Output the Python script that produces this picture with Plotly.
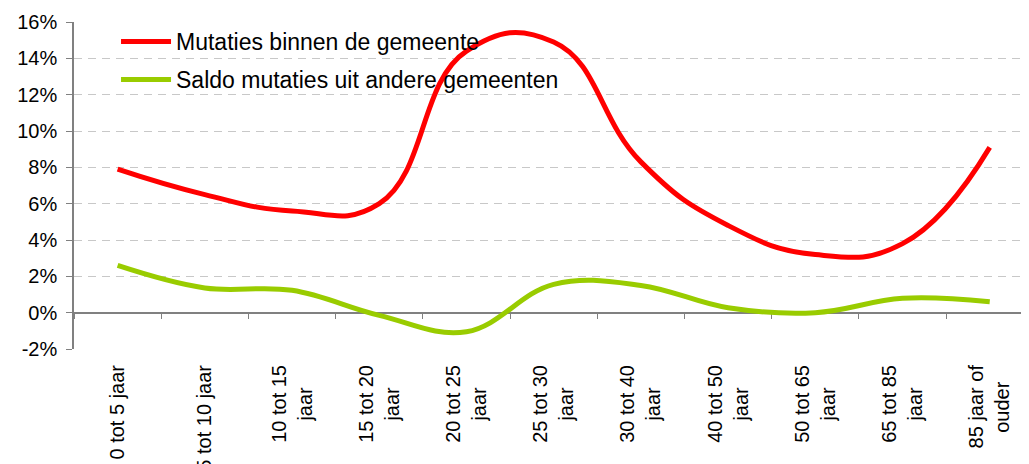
import plotly.graph_objects as go

NB = "\u00a0"
categories = ["0 tot 5 jaar", "5 tot 10 jaar", "10 tot 15 jaar", "15 tot 20 jaar",
              "20 tot 25 jaar", "25 tot 30 jaar", "30 tot 40 jaar", "40 tot 50 jaar",
              "50 tot 65 jaar", "65 tot 85 jaar", "85 jaar of ouder"]
tick_labels = ["0 tot 5 jaar", "5 tot 10 jaar", "10 tot 15<br>jaar" + NB * 4, "15 tot 20<br>jaar" + NB * 4,
               "20 tot 25<br>jaar" + NB * 4, "25 tot 30<br>jaar" + NB * 4, "30 tot 40<br>jaar" + NB * 4,
               "40 tot 50<br>jaar" + NB * 4, "50 tot 65<br>jaar" + NB * 4, "65 tot 85<br>jaar" + NB * 4,
               "85 jaar of<br>ouder" + NB * 3]
binnen = [7.9, 6.5, 5.6, 6.0, 14.4, 14.9, 8.3, 4.8, 3.2, 3.8, 9.1]
saldo = [2.6, 1.36, 1.23, -0.15, -1.05, 1.56, 1.5, 0.27, 0.0, 0.79, 0.6]
y_ticks = [-2, 0, 2, 4, 6, 8, 10, 12, 14, 16]
y_tick_text = ["-2%", "0%", "2%", "4%", "6%", "8%", "10%", "12%", "14%", "16%"]

FONT = "Liberation Sans, Arial, sans-serif"

fig = go.Figure()
fig.add_trace(go.Scatter(x=categories, y=binnen, mode="lines", name="Mutaties binnen de gemeente",
                         line=dict(color="#ff0000", width=5, shape="spline", smoothing=1.3),
                         legendgroup="a", xaxis="x"))
fig.add_trace(go.Scatter(x=categories, y=saldo, mode="lines", name="Saldo mutaties uit andere gemeenten",
                         line=dict(color="#99cc00", width=5, shape="spline", smoothing=1.1),
                         legendgroup="b", xaxis="x2"))

ymin, ymax = y_ticks[0], y_ticks[-1]
fig.update_layout(
    width=1029, height=464,
    margin=dict(l=66, r=8, t=14, b=123, autoexpand=False),
    paper_bgcolor="white", plot_bgcolor="white",
    font=dict(family=FONT, size=20, color="black"),
    showlegend=True,
    legend=dict(x=0.044, y=1.006, xanchor="left", yanchor="top", bgcolor="rgba(0,0,0,0)",
                font=dict(size=23), tracegroupgap=5, itemwidth=50),
    xaxis=dict(type="category", categoryarray=categories, range=[-0.5, 10.45],
               tickmode="array", tickvals=categories, ticktext=tick_labels,
               tickangle=-90, ticks="", showline=False, showgrid=False, zeroline=False,
               ticklabelstandoff=11, tickfont=dict(size=20), automargin=False),
    xaxis2=dict(overlaying="x", matches="x", anchor="free",
                position=(0 - ymin) / (ymax - ymin),
                showline=True, linecolor="#808080", linewidth=1.5,
                ticks="outside", tickson="boundaries", ticklen=6, tickcolor="#808080",
                showticklabels=False, showgrid=False, zeroline=False, layer="below traces",
                automargin=False),
    yaxis=dict(range=[ymin, ymax], tickmode="array", tickvals=y_ticks, ticktext=y_tick_text,
               showline=True, linecolor="#808080", linewidth=1.5,
               ticks="outside", ticklen=6, tickcolor="#808080",
               showgrid=True, gridcolor="#c8c8c8", griddash="8px,6px", gridwidth=1,
               zeroline=False, tickfont=dict(size=20), ticklabelstandoff=5, automargin=False),
)

fig.write_html("out.html")
